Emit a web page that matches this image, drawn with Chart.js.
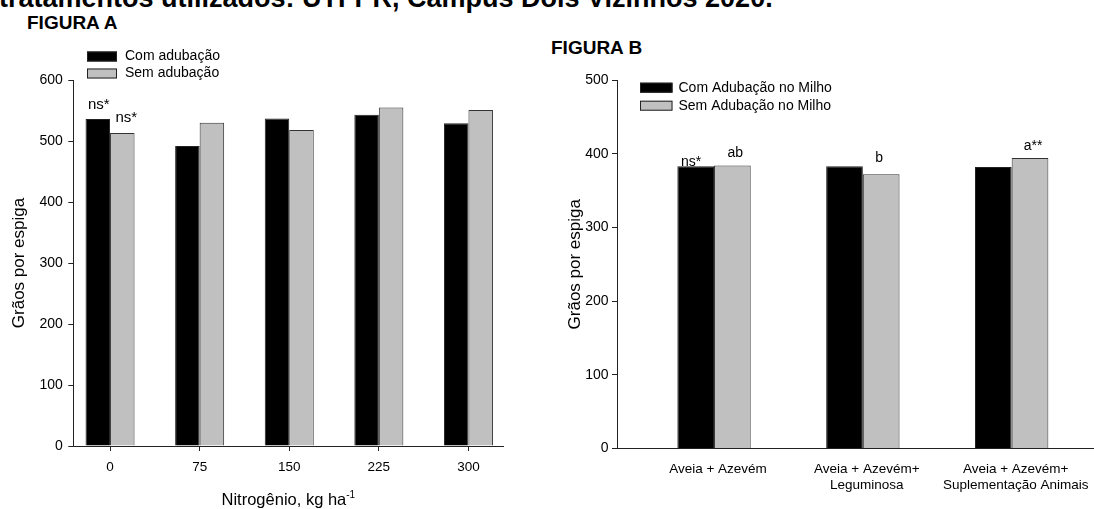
<!DOCTYPE html>
<html><head><meta charset="utf-8">
<script src="https://cdn.jsdelivr.net/npm/chart.js@4.4.1/dist/chart.umd.min.js"></script>
<style>
html,body{margin:0;padding:0;background:#fff;width:1094px;height:509px;overflow:hidden;position:relative;font-family:'Liberation Sans',Arial,sans-serif;}
.lbl{position:absolute;white-space:nowrap;font-weight:bold;color:#000;line-height:1;}
#cA{position:absolute;left:0;top:0;}
#cB{position:absolute;left:540px;top:0;}
</style></head><body>
<div class="lbl" style="left:-1px;top:-15px;font-size:27px;">tratamentos utilizados: UTFPR, Campus Dois Vizinhos 2020.</div>
<div class="lbl" style="left:27px;top:13px;font-size:19px;">FIGURA A</div>
<div class="lbl" style="left:551px;top:38px;font-size:19px;">FIGURA B</div>
<canvas id="cA" width="540" height="509"></canvas>
<canvas id="cB" width="580" height="509"></canvas>
<script>
// ---------- DATA ----------
const nitrogenLevels = ['0', '75', '150', '225', '300'];
const comAdubacaoA = [536, 492, 537, 543, 529];
const semAdubacaoA = [513, 530, 518, 555, 551];
const notesComA = ['ns*', '', '', '', ''];
const notesSemA = ['ns*', '', '', '', ''];
const yTicksA = [0, 100, 200, 300, 400, 500, 600];
const seriesNamesA = ['Com adubação', 'Sem adubação'];
const yTitle = 'Grãos por espiga';
const xTitleA = 'Nitrogênio, kg ha';
const xTitleSupA = '-1';

const systemsB = [['Aveia + Azevém'], ['Aveia + Azevém+', 'Leguminosa'], ['Aveia + Azevém+', 'Suplementação Animais']];
const comAdubacaoB = [383, 383, 382];
const semAdubacaoB = [384, 372, 394];
const notesComB = ['ns*', '', ''];
const notesSemB = ['ab', 'b', 'a**'];
const yTicksB = [0, 100, 200, 300, 400, 500];
const seriesNamesB = ['Com Adubação no Milho', 'Sem Adubação no Milho'];

// ---------- STYLE ----------
const FONT = "'Liberation Sans', Arial, sans-serif";
Chart.defaults.font.family = FONT;
Chart.defaults.color = '#000';
const AXIS = '#222';
const BLACK = '#000000';
const GREY = '#c0c0c0';

const toPoints = vals => vals.map((v, i) => ({x: i, y: v}));

const legendPlugin = {
  id: 'boxLegend',
  afterDraw(chart, args, o) {
    const ctx = chart.ctx;
    ctx.save();
    ctx.font = o.font;
    ctx.textBaseline = 'middle';
    ctx.textAlign = 'left';
    chart.data.datasets.forEach((ds, i) => {
      const cy = o.y + i * o.rowGap;
      ctx.fillStyle = ds.backgroundColor;
      ctx.fillRect(o.x, cy - o.boxH / 2, o.boxW, o.boxH);
      ctx.strokeStyle = '#222';
      ctx.lineWidth = 1;
      ctx.strokeRect(o.x + 0.5, cy - o.boxH / 2 + 0.5, o.boxW - 1, o.boxH - 1);
      ctx.fillStyle = '#000';
      ctx.fillText(ds.label, o.x + o.boxW + o.textGap, cy);
    });
    ctx.restore();
  }
};

const notesPlugin = {
  id: 'barNotes',
  afterDatasetsDraw(chart, args, o) {
    const ctx = chart.ctx;
    ctx.save();
    ctx.font = o.font;
    ctx.fillStyle = '#000';
    ctx.textAlign = 'center';
    ctx.textBaseline = 'alphabetic';
    o.notes.forEach((texts, d) => {
      const meta = chart.getDatasetMeta(d);
      texts.forEach((t, i) => {
        if (!t) return;
        const el = meta.data[i];
        const off = o.offsets[d][i];
        ctx.fillText(t, el.x + off[0], el.y - off[1]);
      });
    });
    ctx.restore();
  }
};

const supTitlePlugin = {
  id: 'supTitle',
  afterDraw(chart, args, o) {
    if (!o.main) return;
    const ctx = chart.ctx, ca = chart.chartArea;
    ctx.save();
    ctx.fillStyle = '#000';
    ctx.textAlign = 'left';
    ctx.textBaseline = 'alphabetic';
    ctx.font = o.mainFont;
    const w1 = ctx.measureText(o.main).width;
    ctx.font = o.supFont;
    const w2 = ctx.measureText(o.sup).width;
    const x0 = (ca.left + ca.right) / 2 - (w1 + w2) / 2;
    ctx.font = o.mainFont;
    ctx.fillText(o.main, x0, o.baseline);
    ctx.font = o.supFont;
    ctx.fillText(o.sup, x0 + w1, o.baseline - o.rise);
    ctx.restore();
  }
};

function makeChart(id, cfg) {
  return new Chart(document.getElementById(id), {
    type: 'bar',
    data: {
      datasets: [
        {label: cfg.names[0], data: toPoints(cfg.com), backgroundColor: BLACK, borderColor: '#222', borderWidth: 1},
        {label: cfg.names[1], data: toPoints(cfg.sem), backgroundColor: GREY, borderColor: '#333', borderWidth: 1}
      ]
    },
    options: {
      responsive: false,
      animation: false,
      devicePixelRatio: 1,
      events: [],
      layout: {padding: cfg.padding},
      datasets: {bar: {categoryPercentage: cfg.catPct, barPercentage: 1, grouped: true}},
      scales: {
        x: {
          type: 'linear',
          offset: false,
          min: cfg.xMin, max: cfg.xMax,
          afterBuildTicks: s => { s.ticks = cfg.cats.map((_, i) => ({value: i})); },
          afterFit: s => { s.height = cfg.xHeight; },
          ticks: {
            autoSkip: false, maxRotation: 0, padding: cfg.xPad,
            font: {size: cfg.xFont, lineHeight: cfg.xLine},
            labelOffset: cfg.xLabelOffset,
            callback: (v) => cfg.cats[v]
          },
          grid: {display: true, offset: false, drawOnChartArea: false, drawTicks: cfg.xTicks, tickLength: 5, color: AXIS},
          border: {display: true, color: AXIS, width: 1}
        },
        y: {
          type: 'linear',
          min: cfg.yTicks[0], max: cfg.yTicks[cfg.yTicks.length - 1],
          afterBuildTicks: s => { s.ticks = cfg.yTicks.map(v => ({value: v})); },
          afterFit: s => { s.width = cfg.yWidth; },
          ticks: {padding: cfg.yPad, font: {size: cfg.yFont}},
          grid: {display: true, drawOnChartArea: false, drawTicks: true, tickLength: 5, color: AXIS},
          border: {display: true, color: AXIS, width: 1},
          title: {display: true, text: yTitle, font: {size: 17}, color: '#000', padding: {top: cfg.yTitlePad, bottom: 0}}
        }
      },
      plugins: {
        legend: {display: false},
        tooltip: {enabled: false},
        boxLegend: cfg.legend,
        barNotes: cfg.notes,
        supTitle: cfg.supTitle || {}
      }
    },
    plugins: [legendPlugin, notesPlugin, supTitlePlugin]
  });
}

makeChart('cA', {
  names: seriesNamesA, com: comAdubacaoA, sem: semAdubacaoA, cats: nitrogenLevels, yTicks: yTicksA,
  padding: {left: 0, top: 80, right: 36.6, bottom: 0},
  catPct: 0.547, xMin: -0.41, xMax: 4.39, xHeight: 63, xPad: 8.2, xFont: 13.5, xLine: 1.2, xTicks: true, xLabelOffset: 0,
  yWidth: 73.3, yPad: 5.5, yFont: 14, yTitlePad: 9.3,
  legend: {x: 87, y: 56.5, rowGap: 17, boxW: 30, boxH: 10, textGap: 8, font: "14px " + FONT},
  notes: {font: "15px " + FONT, notes: [notesComA, notesSemA],
          offsets: [[[1, 10], [0, 10], [0, 10], [0, 10], [0, 10]], [[4, 11.5], [0, 10], [0, 10], [0, 10], [0, 10]]]},
  supTitle: {main: xTitleA, sup: xTitleSupA, mainFont: "16.5px " + FONT, supFont: "10px " + FONT, baseline: 505, rise: 7}
});

makeChart('cB', {
  names: seriesNamesB, com: comAdubacaoB, sem: semAdubacaoB, cats: systemsB, yTicks: yTicksB,
  padding: {left: 0, top: 80, right: 11.3, bottom: 0},
  catPct: 0.493, xMin: -0.652, xMax: 2.652, xHeight: 60.5, xPad: 12.9, xFont: 13.5, xLine: 1.17, xTicks: false, xLabelOffset: 4,
  yWidth: 77, yPad: 3.5, yFont: 14, yTitlePad: 24.8,
  legend: {x: 100, y: 87.7, rowGap: 18, boxW: 32.5, boxH: 10, textGap: 6, font: "14px " + FONT},
  notes: {font: "14px " + FONT, notes: [notesComB, notesSemB],
          offsets: [[[-4.5, 0], [0, 8], [0, 8]], [[3, 8], [-2, 12], [3, 8]]]}
});
</script>
</body></html>
